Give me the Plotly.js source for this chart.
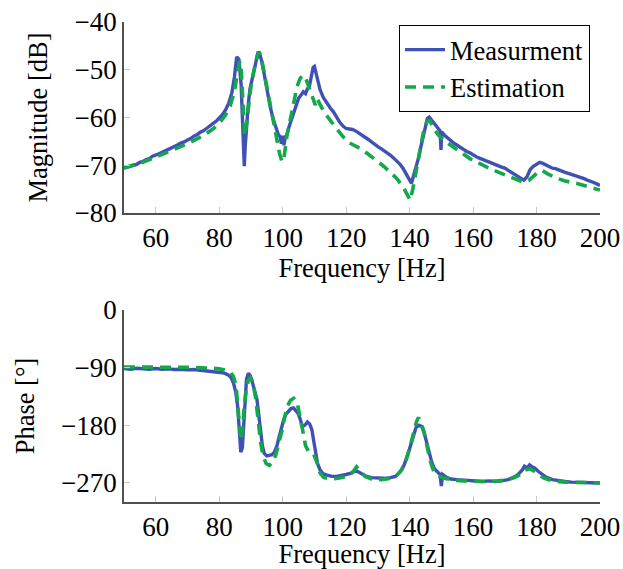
<!DOCTYPE html>
<html>
<head>
<meta charset="utf-8">
<script src="https://cdn.plot.ly/plotly-3.0.1.min.js"></script>
</head>
<body style="margin:0">
<div id="plot" style="width:623px;height:569px"></div>
<script>
// Magnitude – measurement
const magMeasFreq = [50,51,52,53,54,55,56,57,58,59,60,61,62,63,64,65,66,67,68,69,70,71,72,73,74,75,76,77,78,79,80,81,82,83,84,84.8,85.5,86.2,86.9,87.3,87.7,87.9,88.2,88.7,89.2,89.7,90.5,91.3,91.9,92.3,92.8,93.4,94.2,95,96,97,98,98.6,99.2,99.6,100,100.4,100.8,101.3,102,102.8,103.6,104.4,105,105.8,106.5,107.2,107.8,108.4,109,109.6,110,110.5,111,111.8,112.8,113.9,115,116,117,118,119,120,121,122,123,124,125,126,127,128,129,130,131,132,133,134,135,136,137,138,139,140,140.6,141.3,142,142.8,143.6,144.3,145,145.6,146.2,146.8,147.6,148.6,149.6,149.9,150.1,151,152,153,154,155,156,157,158,159,160,161,162,163,164,165,166,167,168,169,170,171,172,173,174,175,176,177,178,179,180,181,182,183,184,185,186,187,188,189,190,191,192,193,194,195,196,197,198,199,200];
const magMeas = [-70.6,-70.4,-70.2,-69.9,-69.8,-69.4,-69.2,-68.8,-68.6,-68.1,-67.9,-67.6,-67.3,-67.0,-66.6,-66.4,-66.0,-65.7,-65.3,-65.1,-64.7,-64.4,-63.9,-63.6,-63.1,-62.8,-62.3,-61.9,-61.3,-60.8,-60.2,-59.4,-58.4,-57.0,-54.8,-51.5,-47.3,-47.8,-53.0,-60.0,-67.0,-70.2,-66.0,-61.0,-57.0,-54.0,-51.5,-49.3,-47.5,-46.2,-46.8,-48.2,-51.0,-54.0,-57.5,-60.3,-62.4,-63.5,-64.0,-65.5,-63.8,-65.8,-64.2,-63.6,-62.0,-60.3,-58.6,-57.2,-56.0,-55.3,-54.6,-55.0,-54.0,-53.5,-51.5,-49.5,-49.3,-50.5,-52.2,-54.2,-55.8,-57.0,-58.0,-58.8,-60.0,-61.0,-61.8,-62.3,-62.4,-62.5,-62.8,-63.2,-63.8,-64.2,-64.6,-65.1,-65.7,-66.1,-66.5,-66.9,-67.4,-67.9,-68.5,-69.1,-69.8,-70.7,-71.8,-73.0,-73.8,-72.0,-70.5,-68.5,-66.0,-63.8,-61.5,-60.2,-59.9,-60.4,-61.2,-61.9,-62.8,-66.8,-63.0,-63.7,-64.3,-64.8,-65.4,-65.8,-66.3,-66.7,-67.1,-67.4,-67.9,-68.2,-68.5,-68.8,-69.1,-69.3,-69.6,-69.9,-70.1,-70.4,-70.6,-71.0,-71.3,-71.7,-72.1,-72.6,-73.1,-72.4,-70.9,-70.2,-69.8,-69.4,-69.6,-69.9,-70.3,-70.6,-70.7,-71.0,-71.2,-71.5,-71.7,-71.9,-72.1,-72.3,-72.5,-72.8,-73.1,-73.3,-73.6,-73.9,-74.2];

// Magnitude – estimation
const magEstFreq = [50,55,60,65,70,75,78,80,82,83.5,84.8,85.8,86.5,87,87.5,88,88.5,89.2,90,91,92,92.6,93.2,94,95,96,97,98,99,99.8,100.5,101.3,102.3,103.4,104.5,105.5,106.5,107.5,108.5,109.5,110.3,110.8,111.5,113,115,117,119,121,123,125,127,129.5,132,134,136,138,139.5,140.2,141,141.8,142.8,143.6,144.5,145.5,146.4,147.5,149,151,153,156,159,162,165,168.5,172,175.7,177.5,179,180.5,181.8,183.5,186,189,192.8,196,200];
const magEst = [-70.5,-69.6,-68.3,-66.9,-65.5,-63.8,-62.4,-61.2,-59.5,-57.5,-54.5,-50.5,-48.2,-50.5,-57,-63.8,-62,-57.5,-53.5,-50,-47,-46.3,-47.2,-50,-53.5,-57.5,-61.2,-64.5,-67.5,-69.3,-68,-64,-60.5,-56.8,-53.6,-51.8,-51.1,-52.2,-54.2,-56.3,-57.4,-56.0,-56.8,-58.8,-60.6,-62.4,-64.0,-65.3,-66.0,-66.7,-67.7,-68.9,-70.3,-71.5,-72.8,-74.6,-76.4,-77.3,-75,-72.3,-68.5,-65.6,-62.5,-60.8,-60.7,-62.2,-63.6,-64.9,-65.9,-67.2,-68.6,-69.7,-70.6,-71.6,-72.5,-73.5,-73.2,-72.4,-71.4,-71.1,-71.8,-72.6,-73.3,-73.8,-74.4,-75.2];

// Phase – measurement
const phMeasFreq = [50,52,54,56,58,60,62,64,66,68,70,72,74,76,78,80,81,82,83,83.8,84.5,85.2,85.8,86.3,86.8,87.3,87.7,88.1,88.6,89.2,89.8,90.4,91.2,91.9,92.5,93,93.6,94.2,95,95.8,96.6,97.4,98.2,98.9,99.6,100.3,101,101.8,102.6,103.4,104.2,104.8,105.5,106.2,107,107.8,108.5,109.2,109.8,110.4,111,111.8,112.8,114,115.5,117,118.5,120,121.5,122.5,123.5,124.5,126,128,130,132,134,135.5,137,138.2,139.3,140.3,141.2,142,143,143.8,144.6,145.4,146.2,147,147.8,148.8,149.6,150,150.4,151.5,153,155,157,159,161,163,165,167,169,171,172.5,174,175.5,176.2,177,177.8,178.6,179.5,180.5,181.5,183,185,187,189,191,193,195,197,200];
const phMeas = [-91.5,-92.5,-91,-92,-92.5,-91.5,-92.5,-92,-93,-92.5,-93.5,-93,-94,-94.5,-95.5,-97,-98,-99.5,-102,-106,-114,-128,-150,-185,-222,-215,-175,-133,-108,-99,-103,-112,-125,-140,-165,-190,-212,-224,-228,-227,-226,-222,-212,-198,-184,-172,-163,-158,-154,-153,-157,-161,-170,-182,-180,-175,-178,-187,-205,-226,-240,-250,-256,-258,-260,-260,-259,-257,-255,-252,-252,-255,-259,-262,-263,-263,-262,-260,-253,-243,-228,-210,-194,-184,-180,-182,-192,-207,-224,-238,-248,-254,-257,-275,-257,-261,-264,-265,-266,-267,-267,-268,-267,-268,-267,-265,-262,-258,-250,-244,-247,-242,-245,-247,-252,-256,-261,-265,-267,-268,-269,-269,-270,-270,-270.5];

// Phase – estimation
const phEstFreq = [50,55,60,65,70,75,78,80,82,83.5,84.5,85.3,85.9,86.4,86.9,87.4,87.9,88.5,89.2,89.9,90.6,91.4,92.2,93,93.8,94.8,95.8,96.8,97.8,98.8,99.7,100.6,101.5,102.5,103.5,104.5,105.3,106.2,107.2,108.5,109.8,110.8,111.8,113,115,117.5,120,122,123.3,124.5,126,128,131,134,136,137.5,138.8,140,141.2,142.2,142.8,143.6,144.5,145.5,146.5,147.6,149,151,154,157,160,164,168,171,173,175,176.5,177.8,179,180.5,182.5,185,189,194,200];
const phEst = [-89,-89.5,-89,-89.5,-89.5,-90,-91,-92,-94,-97,-104,-118,-145,-180,-204,-185,-150,-125,-110,-106,-112,-135,-168,-205,-228,-240,-243,-238,-227,-210,-190,-168,-150,-141,-138,-143,-160,-185,-212,-224,-226,-238,-255,-262,-264,-263,-260,-254,-245,-252,-260,-264,-265,-263,-258,-250,-236,-216,-192,-174,-168,-175,-190,-214,-236,-252,-259,-263,-266,-267,-268,-268,-267,-265,-262,-257,-250,-248,-251,-257,-263,-267,-269,-270,-270];

const xTicks = [60,80,100,120,140,160,180,200];
const magTicks = [-80,-70,-60,-50,-40];
const phTicks = [-270,-180,-90,0];

const BLUE = '#3f51b5';
const GREEN = '#13a84b';
const FONT = 'Liberation Serif';
const f = (s) => ({family:FONT, size:s, color:'#000'});
const TICK = 27, TITLE = 26.5;
const DASH = '11px,7px';

const traces = [
  {x: magMeasFreq, y: magMeas, xaxis:'x', yaxis:'y', mode:'lines', name:'Measurment',
   line:{color:BLUE, width:3.4}},
  {x: magEstFreq, y: magEst, xaxis:'x', yaxis:'y', mode:'lines', name:'Estimation',
   line:{color:GREEN, width:3.6, dash:DASH}},
  {x: phMeasFreq, y: phMeas, xaxis:'x2', yaxis:'y2', mode:'lines', name:'Measurment',
   line:{color:BLUE, width:3.4}, showlegend:false},
  {x: phEstFreq, y: phEst, xaxis:'x2', yaxis:'y2', mode:'lines', name:'Estimation',
   line:{color:GREEN, width:3.6, dash:DASH}, showlegend:false}
];

const xax = (anchor) => ({
  anchor: anchor, domain:[0,1], range:[50,200], tickvals:xTicks,
  ticks:'inside', ticklen:6, tickwidth:1.2, tickcolor:'#c8c8c8',
  showline:true, linecolor:'#505050', linewidth:1.8, showgrid:false, zeroline:false,
  tickfont:f(TICK),
  title:{text:'Frequency [Hz]', font:f(TITLE), standoff:3},
  automargin:false
});

const layout = {
  width:623, height:569,
  margin:{l:124, r:23, t:22, b:67},
  paper_bgcolor:'#fff', plot_bgcolor:'#fff',
  xaxis: xax('y'),
  xaxis2: xax('y2'),
  yaxis: {
    anchor:'x', domain:[0.602,1], range:[-80,-40], tickvals:magTicks,
    ticks:'inside', ticklen:6, tickwidth:1.2, tickcolor:'#c8c8c8',
    showline:true, linecolor:'#505050', linewidth:1.8, showgrid:false, zeroline:false,
    tickfont:f(TICK),
    title:{text:'Magnitude [dB]', font:f(TITLE), standoff:19},
    automargin:false
  },
  yaxis2: {
    anchor:'x2', domain:[0,0.4], range:[-300,0], tickvals:phTicks,
    ticks:'inside', ticklen:6, tickwidth:1.2, tickcolor:'#c8c8c8',
    showline:true, linecolor:'#505050', linewidth:1.8, showgrid:false, zeroline:false,
    tickfont:f(TICK),
    title:{text:'Phase [°]', font:f(TITLE), standoff:19},
    automargin:false
  },
  showlegend:true,
  legend:{x:0.979, y:0.994, xanchor:'right', yanchor:'top',
    bgcolor:'#fff', bordercolor:'#000', borderwidth:1,
    font:f(TITLE), itemwidth:40, tracegroupgap:0}
};

Plotly.newPlot('plot', traces, layout, {displayModeBar:false});
</script>
</body>
</html>
